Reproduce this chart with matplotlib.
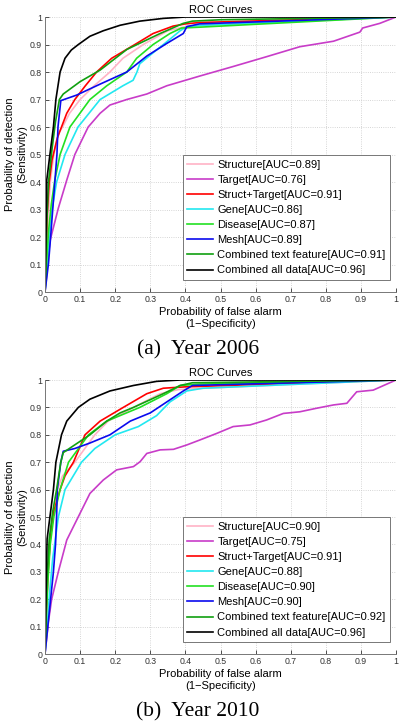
import matplotlib
matplotlib.use("Agg")
import matplotlib.pyplot as plt

plt.rcParams['font.family'] = ['Liberation Sans', 'DejaVu Sans']

# ---- values (false alarm rate, detection rate) ----
names = ['Structure', 'Target', 'Struct+Target', 'Gene', 'Disease', 'Mesh',
         'Combined text feature', 'Combined all data']
auc_2006 = [0.89, 0.76, 0.91, 0.86, 0.87, 0.89, 0.91, 0.96]
auc_2010 = [0.90, 0.75, 0.91, 0.88, 0.90, 0.90, 0.92, 0.96]

# 2006
struct06_fpr = [0, 0.003, 0.008, 0.015, 0.025, 0.04, 0.05, 0.07, 0.1, 0.14, 0.185, 0.222, 0.28, 0.35, 0.40, 0.45, 1.0]
struct06_tpr = [0, 0.1, 0.25, 0.4, 0.5, 0.58, 0.6, 0.65, 0.7, 0.75, 0.8, 0.85, 0.9, 0.95, 0.965, 0.97, 1.0]
target06_fpr = [0, 0.004, 0.008, 0.015, 0.038, 0.062, 0.085, 0.123, 0.157, 0.185, 0.233, 0.29, 0.347, 0.44,
                0.536, 0.632, 0.726, 0.822, 0.897, 0.905, 0.954, 1.0]
target06_tpr = [0, 0.05, 0.12, 0.19, 0.305, 0.407, 0.5, 0.6, 0.65, 0.68, 0.7, 0.72, 0.75, 0.785,
                0.82, 0.856, 0.892, 0.912, 0.945, 0.96, 0.977, 1.0]
st06_fpr = [0, 0.003, 0.006, 0.012, 0.02, 0.035, 0.047, 0.062, 0.085, 0.115, 0.147, 0.19, 0.256, 0.308, 0.365, 0.40, 0.44, 1.0]
st06_tpr = [0, 0.12, 0.28, 0.4, 0.48, 0.56, 0.6, 0.65, 0.7, 0.75, 0.8, 0.85, 0.9, 0.94, 0.967, 0.975, 0.98, 1.0]
gene06_fpr = [0, 0.005, 0.012, 0.02, 0.033, 0.057, 0.094, 0.157, 0.222, 0.251, 0.262, 0.27, 0.308, 0.347, 0.385, 0.404, 0.45, 1.0]
gene06_tpr = [0, 0.08, 0.2, 0.3, 0.4, 0.5, 0.6, 0.7, 0.75, 0.77, 0.8, 0.83, 0.87, 0.91, 0.95, 0.965, 0.97, 1.0]
dis06_fpr = [0, 0.004, 0.01, 0.018, 0.028, 0.043, 0.071, 0.128, 0.176, 0.233, 0.261, 0.308, 0.356, 0.389, 0.44, 1.0]
dis06_tpr = [0, 0.1, 0.22, 0.32, 0.407, 0.5, 0.6, 0.7, 0.75, 0.8, 0.85, 0.9, 0.94, 0.96, 0.963, 1.0]
mesh06_fpr = [0, 0.01, 0.016, 0.022, 0.028, 0.034, 0.037, 0.045, 0.09, 0.157, 0.233, 0.29, 0.347, 0.394, 0.404, 0.44, 1.0]
mesh06_tpr = [0, 0.105, 0.2, 0.3, 0.4, 0.5, 0.6, 0.696, 0.716, 0.756, 0.80, 0.858, 0.904, 0.94, 0.965, 0.975, 1.0]
text06_fpr = [0, 0.002, 0.005, 0.01, 0.02, 0.03, 0.041, 0.052, 0.1, 0.157, 0.233, 0.328, 0.394, 0.42, 0.5, 1.0]
text06_tpr = [0, 0.1, 0.25, 0.4, 0.52, 0.62, 0.7, 0.72, 0.765, 0.807, 0.882, 0.94, 0.977, 0.985, 0.99, 1.0]
all06_fpr = [0, 0.002, 0.004, 0.005, 0.014, 0.024, 0.031, 0.043, 0.057, 0.075, 0.095, 0.128, 0.166, 0.214, 0.27, 0.337, 0.40, 1.0]
all06_tpr = [0, 0.15, 0.3, 0.407, 0.5, 0.6, 0.7, 0.8, 0.85, 0.88, 0.9, 0.93, 0.95, 0.97, 0.985, 0.995, 1.0, 1.0]

# 2010
struct10_fpr = [0, 0.003, 0.008, 0.015, 0.025, 0.035, 0.05, 0.085, 0.142, 0.18, 0.252, 0.328, 0.38, 0.45, 1.0]
struct10_tpr = [0, 0.12, 0.28, 0.42, 0.52, 0.6, 0.65, 0.7, 0.8, 0.85, 0.9, 0.95, 0.965, 0.97, 1.0]
target10_fpr = [0, 0.005, 0.01, 0.019, 0.038, 0.062, 0.095, 0.128, 0.166, 0.204, 0.252, 0.271, 0.29, 0.328,
                0.366, 0.404, 0.441, 0.489, 0.536, 0.584, 0.631, 0.679, 0.726, 0.774, 0.822, 0.86, 0.888, 0.935, 1.0]
target10_tpr = [0, 0.06, 0.12, 0.2, 0.3, 0.416, 0.501, 0.586, 0.635, 0.672, 0.684, 0.702, 0.732, 0.745,
                0.747, 0.763, 0.781, 0.805, 0.830, 0.836, 0.854, 0.878, 0.884, 0.897, 0.909, 0.915, 0.957, 0.963, 1.0]
st10_fpr = [0, 0.003, 0.008, 0.015, 0.025, 0.043, 0.057, 0.081, 0.114, 0.157, 0.223, 0.29, 0.337, 0.40, 1.0]
st10_tpr = [0, 0.12, 0.28, 0.42, 0.52, 0.6, 0.65, 0.7, 0.8, 0.85, 0.9, 0.95, 0.97, 0.975, 1.0]
gene10_fpr = [0, 0.006, 0.013, 0.022, 0.038, 0.057, 0.104, 0.142, 0.2, 0.266, 0.318, 0.356, 0.404, 0.45, 1.0]
gene10_tpr = [0, 0.1, 0.22, 0.35, 0.5, 0.6, 0.7, 0.75, 0.8, 0.83, 0.87, 0.92, 0.96, 0.97, 1.0]
dis10_fpr = [0, 0.003, 0.008, 0.015, 0.025, 0.043, 0.067, 0.124, 0.176, 0.27, 0.347, 0.385, 0.44, 1.0]
dis10_tpr = [0, 0.12, 0.26, 0.4, 0.5, 0.6, 0.7, 0.8, 0.85, 0.9, 0.95, 0.98, 0.985, 1.0]
mesh10_fpr = [0, 0.008, 0.016, 0.024, 0.03, 0.033, 0.035, 0.045, 0.052, 0.085, 0.128, 0.185, 0.243, 0.3, 0.347, 0.394, 0.42, 1.0]
mesh10_tpr = [0, 0.1, 0.2, 0.3, 0.4, 0.5, 0.6, 0.7, 0.74, 0.75, 0.77, 0.8, 0.85, 0.88, 0.92, 0.96, 0.98, 1.0]
text10_fpr = [0, 0.002, 0.006, 0.012, 0.022, 0.033, 0.045, 0.052, 0.081, 0.128, 0.176, 0.214, 0.252, 0.337, 0.385, 0.42, 1.0]
text10_tpr = [0, 0.12, 0.28, 0.42, 0.52, 0.6, 0.7, 0.735, 0.76, 0.8, 0.85, 0.88, 0.9, 0.95, 0.98, 0.99, 1.0]
all10_fpr = [0, 0.002, 0.004, 0.006, 0.014, 0.024, 0.031, 0.047, 0.062, 0.095, 0.128, 0.185, 0.252, 0.318, 0.385, 1.0]
all10_tpr = [0, 0.15, 0.3, 0.42, 0.5, 0.6, 0.7, 0.8, 0.85, 0.9, 0.93, 0.96, 0.98, 0.995, 1.0, 1.0]

colors = ['#ffb3c6', '#c83cc8', '#ff0000', '#22e8f0', '#22e022', '#0a0aee', '#10a010', '#000000']

curves_2006 = [(struct06_fpr, struct06_tpr), (target06_fpr, target06_tpr), (st06_fpr, st06_tpr),
               (gene06_fpr, gene06_tpr), (dis06_fpr, dis06_tpr), (mesh06_fpr, mesh06_tpr),
               (text06_fpr, text06_tpr), (all06_fpr, all06_tpr)]
curves_2010 = [(struct10_fpr, struct10_tpr), (target10_fpr, target10_tpr), (st10_fpr, st10_tpr),
               (gene10_fpr, gene10_tpr), (dis10_fpr, dis10_tpr), (mesh10_fpr, mesh10_tpr),
               (text10_fpr, text10_tpr), (all10_fpr, all10_tpr)]
ticks = [0, 0.1, 0.2, 0.3, 0.4, 0.5, 0.6, 0.7, 0.8, 0.9, 1]
tick_labels = ['0', '0.1', '0.2', '0.3', '0.4', '0.5', '0.6', '0.7', '0.8', '0.9', '1']


def draw_panel(ax, curves, aucs):
    for (fpr, tpr), name, auc, c in zip(curves, names, aucs, colors):
        ax.plot(fpr, tpr, color=c, lw=1.2, label=f'{name}[AUC={auc:.2f}]')
    ax.set_xlim(0, 1)
    ax.set_ylim(0, 1)
    ax.set_xticks(ticks)
    ax.set_yticks(ticks)
    ax.set_xticklabels(tick_labels)
    ax.set_yticklabels(tick_labels)
    ax.tick_params(direction='in', length=3, width=0.6, labelsize=6.3, colors='#333333', pad=2)
    ax.grid(True, linestyle=':', color='#c8c8c8', lw=0.6)
    for s in ['top', 'right']:
        ax.spines[s].set_visible(False)
    for s in ['left', 'bottom']:
        ax.spines[s].set_color('#777777')
        ax.spines[s].set_linewidth(0.7)
    ax.set_title('ROC Curves', fontsize=8, pad=3)
    ax.set_xlabel('Probability of false alarm\n(1\u2212Specificity)', fontsize=8, labelpad=2, linespacing=1.3)
    ax.set_ylabel('Probability of detection\n(Sensitivity)', fontsize=8, labelpad=2, linespacing=1.3)
    leg = ax.legend(loc='lower right', bbox_to_anchor=(0.983, 0.044), fontsize=8, fancybox=False,
                    framealpha=1, edgecolor='#777777', handlelength=2.3, handletextpad=0.4,
                    labelspacing=0.46, borderpad=0.4, borderaxespad=0)
    leg.get_frame().set_linewidth(0.7)


fig = plt.figure(figsize=(4.0, 7.27), dpi=100)
ax1 = fig.add_axes([0.1125, 0.5983, 0.8775, 0.3783])
ax2 = fig.add_axes([0.1125, 0.1004, 0.8775, 0.3769])
draw_panel(ax1, curves_2006, auc_2006)
draw_panel(ax2, curves_2010, auc_2010)

fig.text(0.495, 0.5186, '(a)  Year 2006', ha='center', va='center', fontsize=15.5, family='Liberation Serif')
fig.text(0.495, 0.0206, '(b)  Year 2010', ha='center', va='center', fontsize=15.5, family='Liberation Serif')

fig.savefig('out.png', dpi=100)
